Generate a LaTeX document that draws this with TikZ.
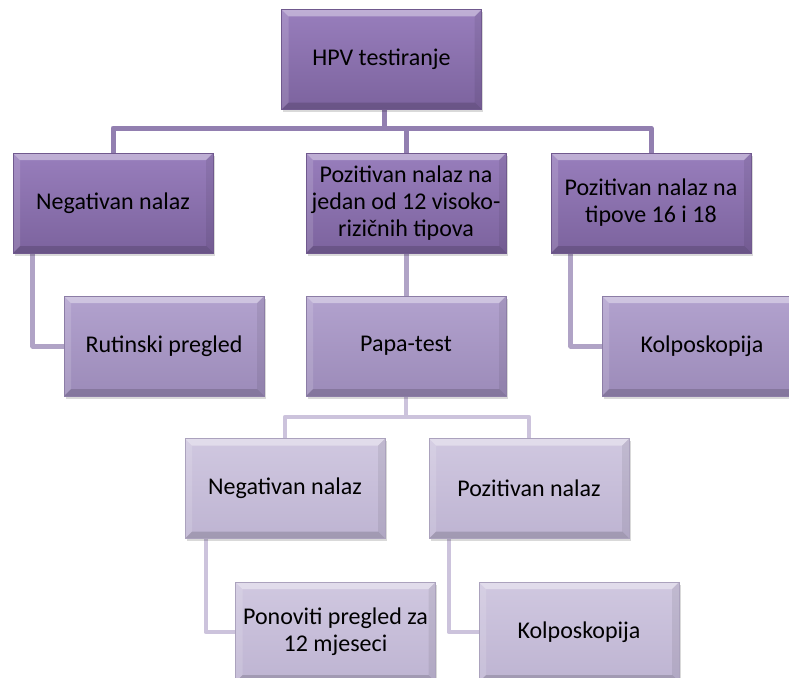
\documentclass[tikz,border=0pt]{standalone}
\usepackage{fontspec}
\setmainfont{Carlito}
\usetikzlibrary{shadows}
\pgfdeclarelayer{bglayer}
\pgfsetlayers{bglayer,main}
\definecolor{conA}{RGB}{146,127,176}
\definecolor{conB}{RGB}{176,163,198}
\definecolor{conC}{RGB}{204,195,220}
\definecolor{topA}{RGB}{152,126,188}
\definecolor{botA}{RGB}{124,99,158}
\definecolor{topB}{RGB}{178,162,206}
\definecolor{botB}{RGB}{156,139,185}
\definecolor{topC}{RGB}{208,200,224}
\definecolor{botC}{RGB}{190,180,210}
\tikzset{
  bevel/.style={path picture={
    \coordinate (pa) at (path picture bounding box.north west);
    \coordinate (pb) at (path picture bounding box.north east);
    \coordinate (pc) at (path picture bounding box.south east);
    \coordinate (pd) at (path picture bounding box.south west);
    \fill[white,opacity=0.38] (pa) -- (pb) -- ([shift={(-7pt,-7pt)}]pb) -- ([shift={(7pt,-7pt)}]pa) -- cycle;
    \fill[white,opacity=0.14] (pa) -- ([shift={(7pt,-7pt)}]pa) -- ([shift={(7pt,7pt)}]pd) -- (pd) -- cycle;
    \fill[black,opacity=0.07] (pb) -- ([shift={(-7pt,-7pt)}]pb) -- ([shift={(-7pt,7pt)}]pc) -- (pc) -- cycle;
    \fill[black,opacity=0.15] (pd) -- (pc) -- ([shift={(-7pt,7pt)}]pc) -- ([shift={(7pt,7pt)}]pd) -- cycle;
  }},
  boxbase/.style={rectangle, minimum width=200pt, minimum height=100pt, inner sep=2pt,
    align=center, text=black, font=\fontsize{24}{27}\selectfont, bevel,
    drop shadow={shadow xshift=1.5pt, shadow yshift=-2.5pt, opacity=0.15, fill=black}},
  lvA/.style={boxbase, top color=topA, bottom color=botA, draw=botA!90!black, line width=0.5pt},
  lvB/.style={boxbase, top color=topB, bottom color=botB, draw=botB!90!black, line width=0.5pt},
  lvC/.style={boxbase, top color=topC, bottom color=botC, draw=botC!90!black, line width=0.5pt},
  linkA/.style={draw=conA, line width=5pt, line join=round},
  linkB/.style={draw=conB, line width=5pt, line join=round},
  linkC/.style={draw=conC, line width=4.5pt, line join=round},
}
\begin{document}
\begin{tikzpicture}[x=1pt,y=-1pt]
\useasboundingbox (0,0) rectangle (789,677);
\clip (0,0) rectangle (789,677);
\coordinate (barA) at (384,128);
\coordinate (barB) at (406,417);
% nodes
\node[lvA] (hpv) at (381.5,59.5) {HPV testiranje};
\node[lvA] (n1) at (113,203) {Negativan nalaz};
\node[lvA] (m1) at (406,203) {Pozitivan nalaz na\\jedan od 12 visoko-\\rizičnih tipova};
\node[lvA] (r1) at (651,203) {Pozitivan nalaz na\\tipove 16 i 18};
\node[lvB] (rut) at (164,346) {Rutinski pregled};
\node[lvB] (papa) at (406,346) {Papa-test};
\node[lvB] (k1) at (702,346) {Kolposkopija};
\node[lvC] (neg3) at (285,488.5) {Negativan nalaz};
\node[lvC] (poz3) at (529,488.5) {Pozitivan nalaz};
\node[lvC] (pon) at (335.5,632) {Ponoviti pregled za\\12 mjeseci};
\node[lvC] (kol4) at (579,632) {Kolposkopija};
% connectors
\begin{pgfonlayer}{bglayer}
\fill[white] (0,0) rectangle (789,677);
\draw[linkA] (hpv.south -| barA) -- (barA);
\draw[linkA] (n1.north) |- (barA) -| (r1.north);
\draw[linkA] (m1.north) -- (m1.north |- barA);
\draw[linkB] ([xshift=20pt]n1.south west) |- (rut.west);
\draw[linkB] ([xshift=20pt]r1.south west) |- (k1.west);
\draw[linkB] (m1.south) -- (papa.north);
\draw[linkC] (papa.south) -- (barB);
\draw[linkC] (neg3.north) |- (barB) -| (poz3.north);
\draw[linkC] ([xshift=21pt]neg3.south west) |- (pon.west);
\draw[linkC] ([xshift=20pt]poz3.south west) |- (kol4.west);
\end{pgfonlayer}
\end{tikzpicture}
\end{document}
